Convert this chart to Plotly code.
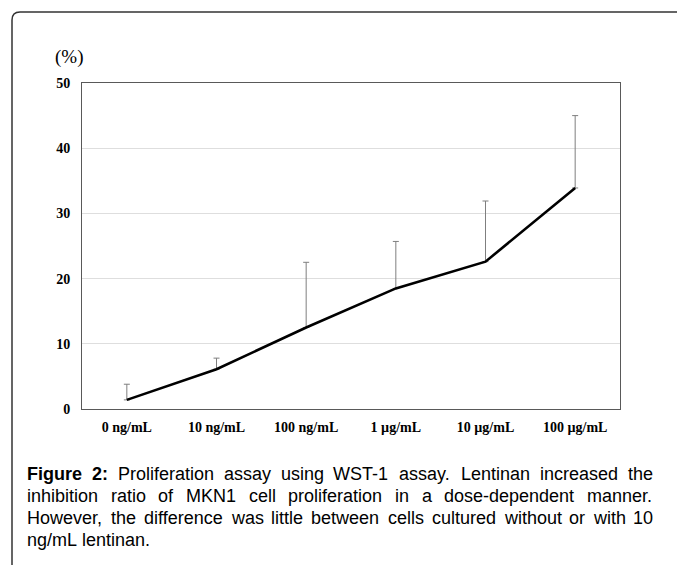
import plotly.graph_objects as go

# ---- data ----
categories = ["0 ng/mL", "10 ng/mL", "100 ng/mL", "1 µg/mL", "10 µg/mL", "100 µg/mL"]
inhibition = [1.4, 6.1, 12.5, 18.5, 22.6, 33.9]
error_plus = [2.4, 1.7, 10.0, 7.2, 9.3, 11.1]
y_ticks = [0, 10, 20, 30, 40, 50]

caption_lines = [
    ["<b>Figure</b>", "<b>2:</b>", "Proliferation", "assay", "using", "WST-1", "assay.", "Lentinan", "increased", "the"],
    ["inhibition", "ratio", "of", "MKN1", "cell", "proliferation", "in", "a", "dose-dependent", "manner."],
    ["However,", "the", "difference", "was", "little", "between", "cells", "cultured", "without", "or", "with", "10"],
    ["ng/mL", "lentinan."],
]
justify = [True, True, True, False]

# ---- geometry (pixels) ----
W, H = 677, 565
L, R, T, B = 82, 620, 83, 409
PW, PH = R - L, B - T


def px(x):
    return (x - L) / PW


def py(y):
    return (B - y) / PH


# Arial / Liberation Sans advance widths (per 1000 em)
REG = dict(zip("abcdefghijklmnopqrstuvwxyz",
               [556, 556, 500, 556, 556, 278, 556, 556, 222, 222, 500, 222, 833,
                556, 556, 556, 556, 333, 500, 278, 556, 500, 722, 500, 500, 500]))
REG.update(dict(zip("ABCDEFGHIJKLMNOPQRSTUVWXYZ",
                    [667, 667, 722, 722, 667, 611, 778, 722, 278, 500, 667, 556, 833,
                     722, 778, 667, 778, 722, 667, 611, 722, 667, 944, 667, 667, 611])))
REG.update({d: 556 for d in "0123456789"})
REG.update({".": 278, ",": 278, ":": 278, "-": 333, "/": 278, " ": 278})
BOLD = dict(REG)
BOLD.update({"F": 611, "i": 278, "g": 611, "u": 611, "r": 389, "e": 556, "2": 556, ":": 333})


def word_w(w, fs):
    bold = w.startswith("<b>")
    t = w.replace("<b>", "").replace("</b>", "")
    tab = BOLD if bold else REG
    return sum(tab.get(c, 556) for c in t) * fs / 1000.0


fig = go.Figure()
fig.add_trace(go.Scatter(
    x=categories, y=inhibition, mode="lines",
    line=dict(color="black", width=2.6),
    error_y=dict(type="data", symmetric=False, array=error_plus,
                 arrayminus=[0] * len(error_plus),
                 color="#7f7f7f", thickness=1, width=3),
    showlegend=False, hoverinfo="skip",
))

serif = "Liberation Serif, Times New Roman, serif"
fig.update_xaxes(
    range=[-0.5, len(categories) - 0.5], showgrid=False,
    showline=True, linecolor="#595959", linewidth=1, mirror=True,
    ticks="", ticklabelstandoff=5,
    tickfont=dict(family=serif, size=14, color="black", weight="bold"),
)
fig.update_yaxes(
    range=[0, 50], tickvals=y_ticks, showgrid=True, gridcolor="#dedede", gridwidth=1,
    showline=True, linecolor="#595959", linewidth=1, mirror=True, zeroline=False,
    ticks="", ticklabelstandoff=8,
    tickfont=dict(family=serif, size=14, color="black", weight="bold"),
)

annotations = [dict(text="(%)", xref="paper", yref="paper", x=px(55), y=py(57),
                    xanchor="left", yanchor="middle", showarrow=False,
                    borderpad=0, borderwidth=0,
                    font=dict(family=serif, size=19, color="black"))]

FS = 18
left_x, right_x = 27, 653
line_y = [474, 496, 518, 540]
for words, just, yy in zip(caption_lines, justify, line_y):
    widths = [word_w(w, FS) for w in words]
    if just and len(words) > 1:
        gap = (right_x - left_x - sum(widths)) / (len(words) - 1)
    else:
        gap = 0.278 * FS
    x = left_x
    for w, ww in zip(words, widths):
        annotations.append(dict(text=w, xref="paper", yref="paper", x=px(x), y=py(yy),
                                xanchor="left", yanchor="middle", showarrow=False,
                                borderpad=0, borderwidth=0,
                                font=dict(family="Liberation Sans, Arial, sans-serif",
                                          size=FS, color="black")))
        x += ww + gap

r = 8
border_path = (f"M {px(12)} {py(566)} L {px(12)} {py(12 + r)} "
               f"Q {px(12)} {py(12)} {px(12 + r)} {py(12)} L {px(678)} {py(12)}")

fig.update_layout(
    width=W, height=H, autosize=False,
    margin=dict(l=L, r=W - R, t=T, b=H - B),
    paper_bgcolor="white", plot_bgcolor="white",
    annotations=annotations,
    shapes=[dict(type="path", path=border_path, xref="paper", yref="paper",
                 line=dict(color="#333333", width=1.5))],
)

fig.write_html("out.html", config={"displayModeBar": False},
               post_script="document.body.style.margin='0';document.body.style.overflow='hidden';")
